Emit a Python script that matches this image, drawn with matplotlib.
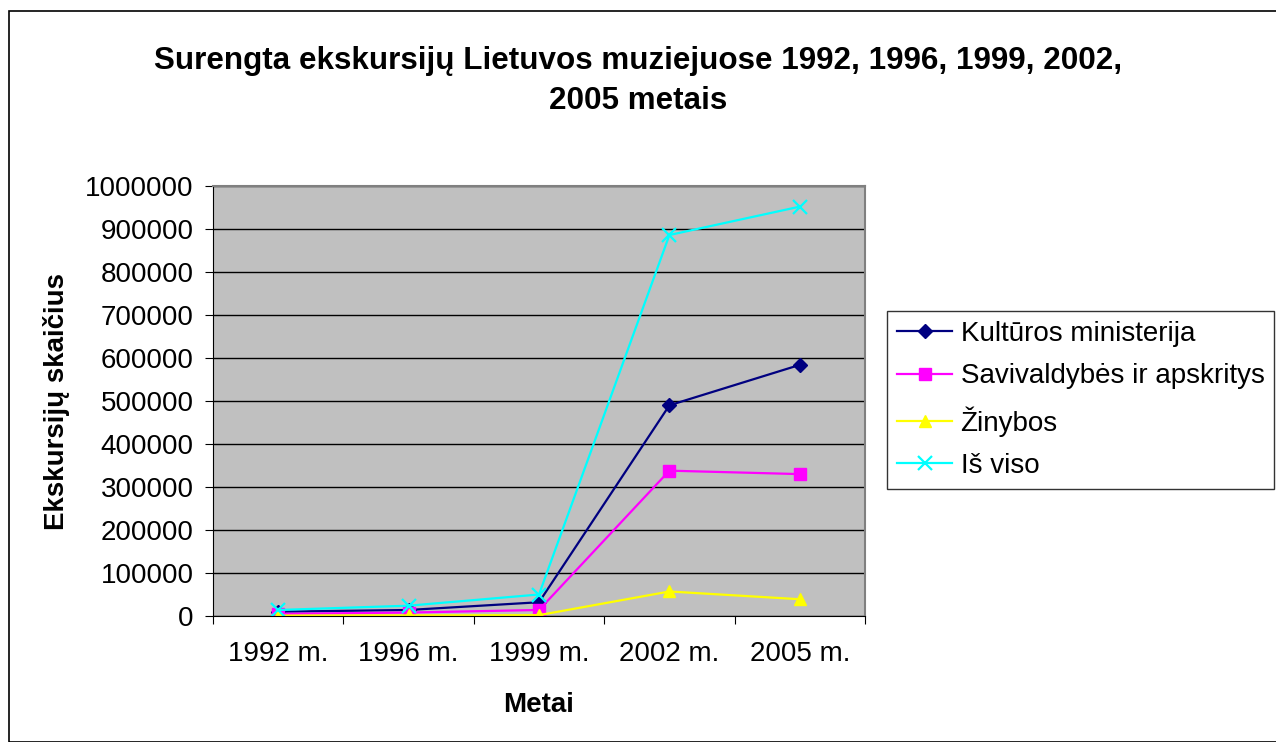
import numpy as np
import matplotlib.pyplot as plt
from matplotlib.patches import Rectangle

plt.rcParams['font.family'] = ['Liberation Sans', 'DejaVu Sans']

years = ['1992 m.', '1996 m.', '1999 m.', '2002 m.', '2005 m.']
kulturos = [10000, 14000, 32000, 490000, 584000]
savivaldybes = [5000, 8000, 14000, 338000, 330000]
zinybos = [1000, 1500, 2000, 57000, 39000]
is_viso = [14000, 24000, 50000, 886000, 952000]

fig = plt.figure(figsize=(12.76, 7.42), dpi=100)
ax = fig.add_axes([213/1276, 1-616/742, (865-213)/1276, (616-186)/742])
ax.set_facecolor('#C0C0C0')

x = np.arange(len(years))
ax.plot(x, kulturos, color='#000080', marker='D', ms=7, lw=1.6, label='Kultūros ministerija')
ax.plot(x, savivaldybes, color='#FF00FF', marker='s', ms=8, lw=1.6, label='Savivaldybės ir apskritys')
ax.plot(x, zinybos, color='#FFFF00', marker='^', ms=9, lw=1.6, label='Žinybos')
ax.plot(x, is_viso, color='#00FFFF', marker='x', ms=10, mew=1.6, lw=1.6, label='Iš viso')

ax.set_xlim(-0.5, 4.5)
ax.set_ylim(0, 1000000)
ax.set_yticks(np.arange(0, 1000001, 100000))
ax.set_yticklabels([str(v) for v in range(0, 1000001, 100000)], fontsize=20)
ax.yaxis.grid(True, color='black', lw=1)
ax.set_axisbelow(True)

ax.set_xticks(np.arange(-0.5, 5, 1))
ax.set_xticklabels([])
ax.set_xticks(x, minor=True)
ax.set_xticklabels(years, minor=True, fontsize=20)
ax.tick_params(axis='x', which='minor', length=0, pad=18)
ax.tick_params(axis='both', which='major', length=6, color='black')
ax.tick_params(axis='y', pad=8)

for s in ['top', 'right']:
    ax.spines[s].set_color('#808080')
    ax.spines[s].set_linewidth(1.5)
for s in ['left', 'bottom']:
    ax.spines[s].set_color('black')

ax.set_ylabel('Ekskursijų skaičius', fontsize=20, fontweight='bold', labelpad=11)
ax.set_xlabel('Metai', fontsize=20, fontweight='bold', labelpad=18)

fig.suptitle('Surengta ekskursijų Lietuvos muziejuose 1992, 1996, 1999, 2002,\n2005 metais',
             fontsize=22.6, fontweight='bold', x=0.5, y=0.938, linespacing=1.45)

leg = fig.legend(loc='upper left', bbox_to_anchor=(887/1276, 1-311/742), fontsize=20,
                 frameon=True, fancybox=False, edgecolor='black', handlelength=2.0,
                 borderpad=0.35, labelspacing=0.6, handletextpad=0.3, borderaxespad=0)
leg.get_frame().set_linewidth(1)

fig.patches.append(Rectangle((9/1276, 0), 1.0, 1-11/742, transform=fig.transFigure,
                             fill=False, edgecolor='black', lw=1.2))

fig.savefig('out.png', dpi=100)
